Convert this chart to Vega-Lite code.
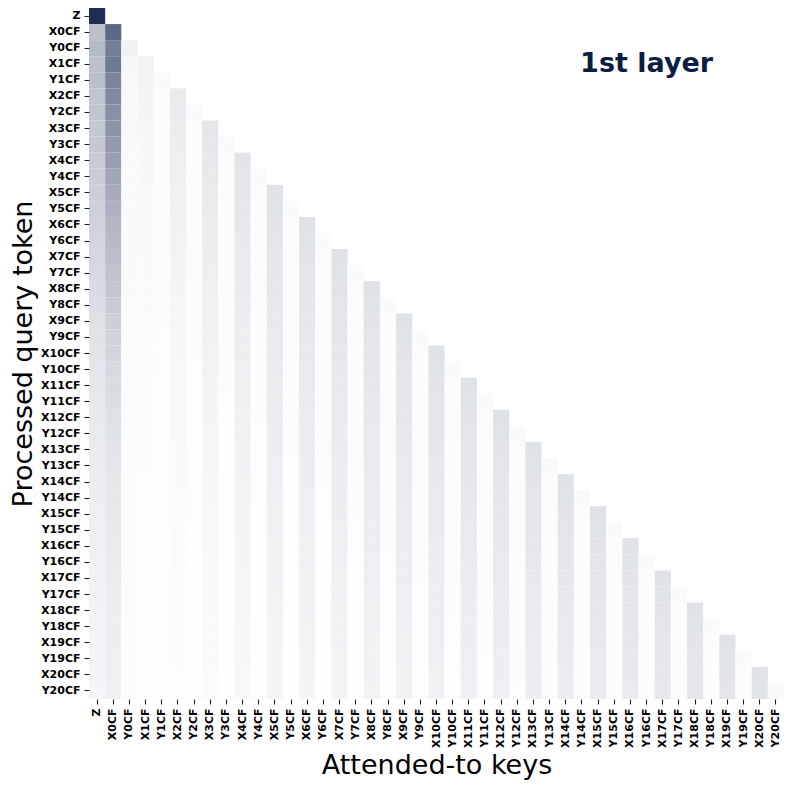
{
"$schema": "https://vega.github.io/schema/vega-lite/v6.json",
"width": 695, "height": 691,
"autosize": "none",
"padding": {"left": 89, "top": 8, "right": 9, "bottom": 90},
"background": "white",
"config": {"view": {"stroke": null}, "font": "DejaVu Sans"},
"layer": [
{
"data": {"values": [
{"q":"Z","k":"Z","v":1.0},
{"q":"X0CF","k":"Z","v":0.30},{"q":"X0CF","k":"X0CF","v":0.72},
{"q":"Y0CF","k":"Z","v":0.33},{"q":"Y0CF","k":"X0CF","v":0.62},{"q":"Y0CF","k":"Y0CF","v":0.06},
{"q":"X1CF","k":"Z","v":0.30},{"q":"X1CF","k":"X0CF","v":0.64},{"q":"X1CF","k":"Y0CF","v":0.04},{"q":"X1CF","k":"X1CF","v":0.055},
{"q":"Y1CF","k":"Z","v":0.31},{"q":"Y1CF","k":"X0CF","v":0.58},{"q":"Y1CF","k":"Y0CF","v":0.032},{"q":"Y1CF","k":"X1CF","v":0.052},{"q":"Y1CF","k":"Y1CF","v":0.025},
{"q":"X2CF","k":"Z","v":0.28},{"q":"X2CF","k":"X0CF","v":0.56},{"q":"X2CF","k":"Y0CF","v":0.032},{"q":"X2CF","k":"X1CF","v":0.049},{"q":"X2CF","k":"Y1CF","v":0.015},{"q":"X2CF","k":"X2CF","v":0.100},
{"q":"Y2CF","k":"Z","v":0.28},{"q":"Y2CF","k":"X0CF","v":0.53},{"q":"Y2CF","k":"Y0CF","v":0.032},{"q":"Y2CF","k":"X1CF","v":0.046},{"q":"Y2CF","k":"Y1CF","v":0.015},{"q":"Y2CF","k":"X2CF","v":0.094},{"q":"Y2CF","k":"Y2CF","v":0.025},
{"q":"X3CF","k":"Z","v":0.26},{"q":"X3CF","k":"X0CF","v":0.51},{"q":"X3CF","k":"Y0CF","v":0.032},{"q":"X3CF","k":"X1CF","v":0.043},{"q":"X3CF","k":"Y1CF","v":0.015},{"q":"X3CF","k":"X2CF","v":0.088},{"q":"X3CF","k":"Y2CF","v":0.015},{"q":"X3CF","k":"X3CF","v":0.120},
{"q":"Y3CF","k":"Z","v":0.26},{"q":"Y3CF","k":"X0CF","v":0.48},{"q":"Y3CF","k":"Y0CF","v":0.026},{"q":"Y3CF","k":"X1CF","v":0.040},{"q":"Y3CF","k":"Y1CF","v":0.015},{"q":"Y3CF","k":"X2CF","v":0.083},{"q":"Y3CF","k":"Y2CF","v":0.015},{"q":"Y3CF","k":"X3CF","v":0.114},{"q":"Y3CF","k":"Y3CF","v":0.025},
{"q":"X4CF","k":"Z","v":0.25},{"q":"X4CF","k":"X0CF","v":0.46},{"q":"X4CF","k":"Y0CF","v":0.026},{"q":"X4CF","k":"X1CF","v":0.038},{"q":"X4CF","k":"Y1CF","v":0.015},{"q":"X4CF","k":"X2CF","v":0.078},{"q":"X4CF","k":"Y2CF","v":0.015},{"q":"X4CF","k":"X3CF","v":0.108},{"q":"X4CF","k":"Y3CF","v":0.015},{"q":"X4CF","k":"X4CF","v":0.130},
{"q":"Y4CF","k":"Z","v":0.24},{"q":"Y4CF","k":"X0CF","v":0.42},{"q":"Y4CF","k":"Y0CF","v":0.026},{"q":"Y4CF","k":"X1CF","v":0.036},{"q":"Y4CF","k":"Y1CF","v":0.012},{"q":"Y4CF","k":"X2CF","v":0.073},{"q":"Y4CF","k":"Y2CF","v":0.015},{"q":"Y4CF","k":"X3CF","v":0.103},{"q":"Y4CF","k":"Y3CF","v":0.015},{"q":"Y4CF","k":"X4CF","v":0.125},{"q":"Y4CF","k":"Y4CF","v":0.025},
{"q":"X5CF","k":"Z","v":0.23},{"q":"X5CF","k":"X0CF","v":0.40},{"q":"X5CF","k":"Y0CF","v":0.026},{"q":"X5CF","k":"X1CF","v":0.034},{"q":"X5CF","k":"Y1CF","v":0.012},{"q":"X5CF","k":"X2CF","v":0.069},{"q":"X5CF","k":"Y2CF","v":0.015},{"q":"X5CF","k":"X3CF","v":0.098},{"q":"X5CF","k":"Y3CF","v":0.015},{"q":"X5CF","k":"X4CF","v":0.120},{"q":"X5CF","k":"Y4CF","v":0.015},{"q":"X5CF","k":"X5CF","v":0.140},
{"q":"Y5CF","k":"Z","v":0.22},{"q":"Y5CF","k":"X0CF","v":0.37},{"q":"Y5CF","k":"Y0CF","v":0.026},{"q":"Y5CF","k":"X1CF","v":0.032},{"q":"Y5CF","k":"Y1CF","v":0.012},{"q":"Y5CF","k":"X2CF","v":0.065},{"q":"Y5CF","k":"Y2CF","v":0.012},{"q":"Y5CF","k":"X3CF","v":0.093},{"q":"Y5CF","k":"Y3CF","v":0.015},{"q":"Y5CF","k":"X4CF","v":0.115},{"q":"Y5CF","k":"Y4CF","v":0.015},{"q":"Y5CF","k":"X5CF","v":0.135},{"q":"Y5CF","k":"Y5CF","v":0.025},
{"q":"X6CF","k":"Z","v":0.21},{"q":"X6CF","k":"X0CF","v":0.35},{"q":"X6CF","k":"Y0CF","v":0.026},{"q":"X6CF","k":"X1CF","v":0.030},{"q":"X6CF","k":"Y1CF","v":0.012},{"q":"X6CF","k":"X2CF","v":0.061},{"q":"X6CF","k":"Y2CF","v":0.012},{"q":"X6CF","k":"X3CF","v":0.088},{"q":"X6CF","k":"Y3CF","v":0.015},{"q":"X6CF","k":"X4CF","v":0.110},{"q":"X6CF","k":"Y4CF","v":0.015},{"q":"X6CF","k":"X5CF","v":0.130},{"q":"X6CF","k":"Y5CF","v":0.015},{"q":"X6CF","k":"X6CF","v":0.140},
{"q":"Y6CF","k":"Z","v":0.20},{"q":"Y6CF","k":"X0CF","v":0.33},{"q":"Y6CF","k":"Y0CF","v":0.026},{"q":"Y6CF","k":"X1CF","v":0.028},{"q":"Y6CF","k":"Y1CF","v":0.012},{"q":"Y6CF","k":"X2CF","v":0.057},{"q":"Y6CF","k":"Y2CF","v":0.012},{"q":"Y6CF","k":"X3CF","v":0.084},{"q":"Y6CF","k":"Y3CF","v":0.012},{"q":"Y6CF","k":"X4CF","v":0.106},{"q":"Y6CF","k":"Y4CF","v":0.015},{"q":"Y6CF","k":"X5CF","v":0.126},{"q":"Y6CF","k":"Y5CF","v":0.015},{"q":"Y6CF","k":"X6CF","v":0.135},{"q":"Y6CF","k":"Y6CF","v":0.025},
{"q":"X7CF","k":"Z","v":0.19},{"q":"X7CF","k":"X0CF","v":0.31},{"q":"X7CF","k":"Y0CF","v":0.026},{"q":"X7CF","k":"X1CF","v":0.026},{"q":"X7CF","k":"Y1CF","v":0.012},{"q":"X7CF","k":"X2CF","v":0.054},{"q":"X7CF","k":"Y2CF","v":0.012},{"q":"X7CF","k":"X3CF","v":0.080},{"q":"X7CF","k":"Y3CF","v":0.012},{"q":"X7CF","k":"X4CF","v":0.102},{"q":"X7CF","k":"Y4CF","v":0.015},{"q":"X7CF","k":"X5CF","v":0.121},{"q":"X7CF","k":"Y5CF","v":0.015},{"q":"X7CF","k":"X6CF","v":0.130},{"q":"X7CF","k":"Y6CF","v":0.015},{"q":"X7CF","k":"X7CF","v":0.140},
{"q":"Y7CF","k":"Z","v":0.18},{"q":"Y7CF","k":"X0CF","v":0.29},{"q":"Y7CF","k":"Y0CF","v":0.026},{"q":"Y7CF","k":"X1CF","v":0.025},{"q":"Y7CF","k":"Y1CF","v":0.012},{"q":"Y7CF","k":"X2CF","v":0.051},{"q":"Y7CF","k":"Y2CF","v":0.012},{"q":"Y7CF","k":"X3CF","v":0.076},{"q":"Y7CF","k":"Y3CF","v":0.012},{"q":"Y7CF","k":"X4CF","v":0.098},{"q":"Y7CF","k":"Y4CF","v":0.012},{"q":"Y7CF","k":"X5CF","v":0.117},{"q":"Y7CF","k":"Y5CF","v":0.015},{"q":"Y7CF","k":"X6CF","v":0.126},{"q":"Y7CF","k":"Y6CF","v":0.015},{"q":"Y7CF","k":"X7CF","v":0.135},{"q":"Y7CF","k":"Y7CF","v":0.025},
{"q":"X8CF","k":"Z","v":0.17},{"q":"X8CF","k":"X0CF","v":0.27},{"q":"X8CF","k":"Y0CF","v":0.026},{"q":"X8CF","k":"X1CF","v":0.023},{"q":"X8CF","k":"Y1CF","v":0.012},{"q":"X8CF","k":"X2CF","v":0.048},{"q":"X8CF","k":"Y2CF","v":0.012},{"q":"X8CF","k":"X3CF","v":0.072},{"q":"X8CF","k":"Y3CF","v":0.012},{"q":"X8CF","k":"X4CF","v":0.094},{"q":"X8CF","k":"Y4CF","v":0.012},{"q":"X8CF","k":"X5CF","v":0.113},{"q":"X8CF","k":"Y5CF","v":0.015},{"q":"X8CF","k":"X6CF","v":0.121},{"q":"X8CF","k":"Y6CF","v":0.015},{"q":"X8CF","k":"X7CF","v":0.130},{"q":"X8CF","k":"Y7CF","v":0.015},{"q":"X8CF","k":"X8CF","v":0.140},
{"q":"Y8CF","k":"Z","v":0.16},{"q":"Y8CF","k":"X0CF","v":0.25},{"q":"Y8CF","k":"Y0CF","v":0.02},{"q":"Y8CF","k":"X1CF","v":0.022},{"q":"Y8CF","k":"Y1CF","v":0.012},{"q":"Y8CF","k":"X2CF","v":0.045},{"q":"Y8CF","k":"Y2CF","v":0.012},{"q":"Y8CF","k":"X3CF","v":0.068},{"q":"Y8CF","k":"Y3CF","v":0.012},{"q":"Y8CF","k":"X4CF","v":0.090},{"q":"Y8CF","k":"Y4CF","v":0.012},{"q":"Y8CF","k":"X5CF","v":0.109},{"q":"Y8CF","k":"Y5CF","v":0.012},{"q":"Y8CF","k":"X6CF","v":0.117},{"q":"Y8CF","k":"Y6CF","v":0.015},{"q":"Y8CF","k":"X7CF","v":0.126},{"q":"Y8CF","k":"Y7CF","v":0.015},{"q":"Y8CF","k":"X8CF","v":0.135},{"q":"Y8CF","k":"Y8CF","v":0.025},
{"q":"X9CF","k":"Z","v":0.15},{"q":"X9CF","k":"X0CF","v":0.23},{"q":"X9CF","k":"Y0CF","v":0.02},{"q":"X9CF","k":"X1CF","v":0.021},{"q":"X9CF","k":"Y1CF","v":0.012},{"q":"X9CF","k":"X2CF","v":0.042},{"q":"X9CF","k":"Y2CF","v":0.012},{"q":"X9CF","k":"X3CF","v":0.065},{"q":"X9CF","k":"Y3CF","v":0.012},{"q":"X9CF","k":"X4CF","v":0.086},{"q":"X9CF","k":"Y4CF","v":0.012},{"q":"X9CF","k":"X5CF","v":0.105},{"q":"X9CF","k":"Y5CF","v":0.012},{"q":"X9CF","k":"X6CF","v":0.113},{"q":"X9CF","k":"Y6CF","v":0.015},{"q":"X9CF","k":"X7CF","v":0.121},{"q":"X9CF","k":"Y7CF","v":0.015},{"q":"X9CF","k":"X8CF","v":0.130},{"q":"X9CF","k":"Y8CF","v":0.015},{"q":"X9CF","k":"X9CF","v":0.140},
{"q":"Y9CF","k":"Z","v":0.14},{"q":"Y9CF","k":"X0CF","v":0.21},{"q":"Y9CF","k":"Y0CF","v":0.02},{"q":"Y9CF","k":"X1CF","v":0.019},{"q":"Y9CF","k":"Y1CF","v":0.009},{"q":"Y9CF","k":"X2CF","v":0.040},{"q":"Y9CF","k":"Y2CF","v":0.012},{"q":"Y9CF","k":"X3CF","v":0.062},{"q":"Y9CF","k":"Y3CF","v":0.012},{"q":"Y9CF","k":"X4CF","v":0.083},{"q":"Y9CF","k":"Y4CF","v":0.012},{"q":"Y9CF","k":"X5CF","v":0.102},{"q":"Y9CF","k":"Y5CF","v":0.012},{"q":"Y9CF","k":"X6CF","v":0.109},{"q":"Y9CF","k":"Y6CF","v":0.012},{"q":"Y9CF","k":"X7CF","v":0.117},{"q":"Y9CF","k":"Y7CF","v":0.015},{"q":"Y9CF","k":"X8CF","v":0.126},{"q":"Y9CF","k":"Y8CF","v":0.015},{"q":"Y9CF","k":"X9CF","v":0.135},{"q":"Y9CF","k":"Y9CF","v":0.025},
{"q":"X10CF","k":"Z","v":0.13},{"q":"X10CF","k":"X0CF","v":0.20},{"q":"X10CF","k":"Y0CF","v":0.02},{"q":"X10CF","k":"X1CF","v":0.018},{"q":"X10CF","k":"Y1CF","v":0.009},{"q":"X10CF","k":"X2CF","v":0.037},{"q":"X10CF","k":"Y2CF","v":0.012},{"q":"X10CF","k":"X3CF","v":0.059},{"q":"X10CF","k":"Y3CF","v":0.012},{"q":"X10CF","k":"X4CF","v":0.080},{"q":"X10CF","k":"Y4CF","v":0.012},{"q":"X10CF","k":"X5CF","v":0.098},{"q":"X10CF","k":"Y5CF","v":0.012},{"q":"X10CF","k":"X6CF","v":0.105},{"q":"X10CF","k":"Y6CF","v":0.012},{"q":"X10CF","k":"X7CF","v":0.113},{"q":"X10CF","k":"Y7CF","v":0.015},{"q":"X10CF","k":"X8CF","v":0.121},{"q":"X10CF","k":"Y8CF","v":0.015},{"q":"X10CF","k":"X9CF","v":0.130},{"q":"X10CF","k":"Y9CF","v":0.015},{"q":"X10CF","k":"X10CF","v":0.140},
{"q":"Y10CF","k":"Z","v":0.125},{"q":"Y10CF","k":"X0CF","v":0.18},{"q":"Y10CF","k":"Y0CF","v":0.02},{"q":"Y10CF","k":"X1CF","v":0.017},{"q":"Y10CF","k":"Y1CF","v":0.009},{"q":"Y10CF","k":"X2CF","v":0.035},{"q":"Y10CF","k":"Y2CF","v":0.009},{"q":"Y10CF","k":"X3CF","v":0.056},{"q":"Y10CF","k":"Y3CF","v":0.012},{"q":"Y10CF","k":"X4CF","v":0.076},{"q":"Y10CF","k":"Y4CF","v":0.012},{"q":"Y10CF","k":"X5CF","v":0.095},{"q":"Y10CF","k":"Y5CF","v":0.012},{"q":"Y10CF","k":"X6CF","v":0.102},{"q":"Y10CF","k":"Y6CF","v":0.012},{"q":"Y10CF","k":"X7CF","v":0.109},{"q":"Y10CF","k":"Y7CF","v":0.012},{"q":"Y10CF","k":"X8CF","v":0.117},{"q":"Y10CF","k":"Y8CF","v":0.015},{"q":"Y10CF","k":"X9CF","v":0.126},{"q":"Y10CF","k":"Y9CF","v":0.015},{"q":"Y10CF","k":"X10CF","v":0.135},{"q":"Y10CF","k":"Y10CF","v":0.025},
{"q":"X11CF","k":"Z","v":0.12},{"q":"X11CF","k":"X0CF","v":0.17},{"q":"X11CF","k":"Y0CF","v":0.02},{"q":"X11CF","k":"X1CF","v":0.016},{"q":"X11CF","k":"Y1CF","v":0.009},{"q":"X11CF","k":"X2CF","v":0.033},{"q":"X11CF","k":"Y2CF","v":0.009},{"q":"X11CF","k":"X3CF","v":0.053},{"q":"X11CF","k":"Y3CF","v":0.012},{"q":"X11CF","k":"X4CF","v":0.073},{"q":"X11CF","k":"Y4CF","v":0.012},{"q":"X11CF","k":"X5CF","v":0.091},{"q":"X11CF","k":"Y5CF","v":0.012},{"q":"X11CF","k":"X6CF","v":0.098},{"q":"X11CF","k":"Y6CF","v":0.012},{"q":"X11CF","k":"X7CF","v":0.105},{"q":"X11CF","k":"Y7CF","v":0.012},{"q":"X11CF","k":"X8CF","v":0.113},{"q":"X11CF","k":"Y8CF","v":0.015},{"q":"X11CF","k":"X9CF","v":0.121},{"q":"X11CF","k":"Y9CF","v":0.015},{"q":"X11CF","k":"X10CF","v":0.130},{"q":"X11CF","k":"Y10CF","v":0.015},{"q":"X11CF","k":"X11CF","v":0.140},
{"q":"Y11CF","k":"Z","v":0.11},{"q":"Y11CF","k":"X0CF","v":0.16},{"q":"Y11CF","k":"Y0CF","v":0.02},{"q":"Y11CF","k":"X1CF","v":0.015},{"q":"Y11CF","k":"Y1CF","v":0.009},{"q":"Y11CF","k":"X2CF","v":0.031},{"q":"Y11CF","k":"Y2CF","v":0.009},{"q":"Y11CF","k":"X3CF","v":0.050},{"q":"Y11CF","k":"Y3CF","v":0.009},{"q":"Y11CF","k":"X4CF","v":0.070},{"q":"Y11CF","k":"Y4CF","v":0.012},{"q":"Y11CF","k":"X5CF","v":0.088},{"q":"Y11CF","k":"Y5CF","v":0.012},{"q":"Y11CF","k":"X6CF","v":0.095},{"q":"Y11CF","k":"Y6CF","v":0.012},{"q":"Y11CF","k":"X7CF","v":0.102},{"q":"Y11CF","k":"Y7CF","v":0.012},{"q":"Y11CF","k":"X8CF","v":0.109},{"q":"Y11CF","k":"Y8CF","v":0.012},{"q":"Y11CF","k":"X9CF","v":0.117},{"q":"Y11CF","k":"Y9CF","v":0.015},{"q":"Y11CF","k":"X10CF","v":0.126},{"q":"Y11CF","k":"Y10CF","v":0.015},{"q":"Y11CF","k":"X11CF","v":0.135},{"q":"Y11CF","k":"Y11CF","v":0.025},
{"q":"X12CF","k":"Z","v":0.105},{"q":"X12CF","k":"X0CF","v":0.15},{"q":"X12CF","k":"Y0CF","v":0.02},{"q":"X12CF","k":"X1CF","v":0.014},{"q":"X12CF","k":"Y1CF","v":0.009},{"q":"X12CF","k":"X2CF","v":0.029},{"q":"X12CF","k":"Y2CF","v":0.009},{"q":"X12CF","k":"X3CF","v":0.048},{"q":"X12CF","k":"Y3CF","v":0.009},{"q":"X12CF","k":"X4CF","v":0.068},{"q":"X12CF","k":"Y4CF","v":0.012},{"q":"X12CF","k":"X5CF","v":0.085},{"q":"X12CF","k":"Y5CF","v":0.012},{"q":"X12CF","k":"X6CF","v":0.091},{"q":"X12CF","k":"Y6CF","v":0.012},{"q":"X12CF","k":"X7CF","v":0.098},{"q":"X12CF","k":"Y7CF","v":0.012},{"q":"X12CF","k":"X8CF","v":0.105},{"q":"X12CF","k":"Y8CF","v":0.012},{"q":"X12CF","k":"X9CF","v":0.113},{"q":"X12CF","k":"Y9CF","v":0.015},{"q":"X12CF","k":"X10CF","v":0.121},{"q":"X12CF","k":"Y10CF","v":0.015},{"q":"X12CF","k":"X11CF","v":0.130},{"q":"X12CF","k":"Y11CF","v":0.015},{"q":"X12CF","k":"X12CF","v":0.140},
{"q":"Y12CF","k":"Z","v":0.10},{"q":"Y12CF","k":"X0CF","v":0.14},{"q":"Y12CF","k":"Y0CF","v":0.02},{"q":"Y12CF","k":"X1CF","v":0.013},{"q":"Y12CF","k":"Y1CF","v":0.009},{"q":"Y12CF","k":"X2CF","v":0.027},{"q":"Y12CF","k":"Y2CF","v":0.009},{"q":"Y12CF","k":"X3CF","v":0.045},{"q":"Y12CF","k":"Y3CF","v":0.009},{"q":"Y12CF","k":"X4CF","v":0.065},{"q":"Y12CF","k":"Y4CF","v":0.009},{"q":"Y12CF","k":"X5CF","v":0.082},{"q":"Y12CF","k":"Y5CF","v":0.012},{"q":"Y12CF","k":"X6CF","v":0.088},{"q":"Y12CF","k":"Y6CF","v":0.012},{"q":"Y12CF","k":"X7CF","v":0.095},{"q":"Y12CF","k":"Y7CF","v":0.012},{"q":"Y12CF","k":"X8CF","v":0.102},{"q":"Y12CF","k":"Y8CF","v":0.012},{"q":"Y12CF","k":"X9CF","v":0.109},{"q":"Y12CF","k":"Y9CF","v":0.012},{"q":"Y12CF","k":"X10CF","v":0.117},{"q":"Y12CF","k":"Y10CF","v":0.015},{"q":"Y12CF","k":"X11CF","v":0.126},{"q":"Y12CF","k":"Y11CF","v":0.015},{"q":"Y12CF","k":"X12CF","v":0.135},{"q":"Y12CF","k":"Y12CF","v":0.025},
{"q":"X13CF","k":"Z","v":0.095},{"q":"X13CF","k":"X0CF","v":0.13},{"q":"X13CF","k":"Y0CF","v":0.02},{"q":"X13CF","k":"X1CF","v":0.013},{"q":"X13CF","k":"Y1CF","v":0.009},{"q":"X13CF","k":"X2CF","v":0.026},{"q":"X13CF","k":"Y2CF","v":0.009},{"q":"X13CF","k":"X3CF","v":0.043},{"q":"X13CF","k":"Y3CF","v":0.009},{"q":"X13CF","k":"X4CF","v":0.062},{"q":"X13CF","k":"Y4CF","v":0.009},{"q":"X13CF","k":"X5CF","v":0.079},{"q":"X13CF","k":"Y5CF","v":0.012},{"q":"X13CF","k":"X6CF","v":0.085},{"q":"X13CF","k":"Y6CF","v":0.012},{"q":"X13CF","k":"X7CF","v":0.091},{"q":"X13CF","k":"Y7CF","v":0.012},{"q":"X13CF","k":"X8CF","v":0.098},{"q":"X13CF","k":"Y8CF","v":0.012},{"q":"X13CF","k":"X9CF","v":0.105},{"q":"X13CF","k":"Y9CF","v":0.012},{"q":"X13CF","k":"X10CF","v":0.113},{"q":"X13CF","k":"Y10CF","v":0.015},{"q":"X13CF","k":"X11CF","v":0.121},{"q":"X13CF","k":"Y11CF","v":0.015},{"q":"X13CF","k":"X12CF","v":0.130},{"q":"X13CF","k":"Y12CF","v":0.015},{"q":"X13CF","k":"X13CF","v":0.140},
{"q":"Y13CF","k":"Z","v":0.09},{"q":"Y13CF","k":"X0CF","v":0.125},{"q":"Y13CF","k":"Y0CF","v":0.015},{"q":"Y13CF","k":"X1CF","v":0.012},{"q":"Y13CF","k":"Y1CF","v":0.009},{"q":"Y13CF","k":"X2CF","v":0.024},{"q":"Y13CF","k":"Y2CF","v":0.009},{"q":"Y13CF","k":"X3CF","v":0.041},{"q":"Y13CF","k":"Y3CF","v":0.009},{"q":"Y13CF","k":"X4CF","v":0.060},{"q":"Y13CF","k":"Y4CF","v":0.009},{"q":"Y13CF","k":"X5CF","v":0.076},{"q":"Y13CF","k":"Y5CF","v":0.009},{"q":"Y13CF","k":"X6CF","v":0.082},{"q":"Y13CF","k":"Y6CF","v":0.012},{"q":"Y13CF","k":"X7CF","v":0.088},{"q":"Y13CF","k":"Y7CF","v":0.012},{"q":"Y13CF","k":"X8CF","v":0.095},{"q":"Y13CF","k":"Y8CF","v":0.012},{"q":"Y13CF","k":"X9CF","v":0.102},{"q":"Y13CF","k":"Y9CF","v":0.012},{"q":"Y13CF","k":"X10CF","v":0.109},{"q":"Y13CF","k":"Y10CF","v":0.012},{"q":"Y13CF","k":"X11CF","v":0.117},{"q":"Y13CF","k":"Y11CF","v":0.015},{"q":"Y13CF","k":"X12CF","v":0.126},{"q":"Y13CF","k":"Y12CF","v":0.015},{"q":"Y13CF","k":"X13CF","v":0.135},{"q":"Y13CF","k":"Y13CF","v":0.025},
{"q":"X14CF","k":"Z","v":0.085},{"q":"X14CF","k":"X0CF","v":0.12},{"q":"X14CF","k":"Y0CF","v":0.015},{"q":"X14CF","k":"X1CF","v":0.011},{"q":"X14CF","k":"Y1CF","v":0.009},{"q":"X14CF","k":"X2CF","v":0.023},{"q":"X14CF","k":"Y2CF","v":0.009},{"q":"X14CF","k":"X3CF","v":0.039},{"q":"X14CF","k":"Y3CF","v":0.009},{"q":"X14CF","k":"X4CF","v":0.057},{"q":"X14CF","k":"Y4CF","v":0.009},{"q":"X14CF","k":"X5CF","v":0.074},{"q":"X14CF","k":"Y5CF","v":0.009},{"q":"X14CF","k":"X6CF","v":0.079},{"q":"X14CF","k":"Y6CF","v":0.012},{"q":"X14CF","k":"X7CF","v":0.085},{"q":"X14CF","k":"Y7CF","v":0.012},{"q":"X14CF","k":"X8CF","v":0.091},{"q":"X14CF","k":"Y8CF","v":0.012},{"q":"X14CF","k":"X9CF","v":0.098},{"q":"X14CF","k":"Y9CF","v":0.012},{"q":"X14CF","k":"X10CF","v":0.105},{"q":"X14CF","k":"Y10CF","v":0.012},{"q":"X14CF","k":"X11CF","v":0.113},{"q":"X14CF","k":"Y11CF","v":0.015},{"q":"X14CF","k":"X12CF","v":0.121},{"q":"X14CF","k":"Y12CF","v":0.015},{"q":"X14CF","k":"X13CF","v":0.130},{"q":"X14CF","k":"Y13CF","v":0.015},{"q":"X14CF","k":"X14CF","v":0.140},
{"q":"Y14CF","k":"Z","v":0.08},{"q":"Y14CF","k":"X0CF","v":0.115},{"q":"Y14CF","k":"Y0CF","v":0.015},{"q":"Y14CF","k":"X1CF","v":0.010},{"q":"Y14CF","k":"Y1CF","v":0.007},{"q":"Y14CF","k":"X2CF","v":0.021},{"q":"Y14CF","k":"Y2CF","v":0.009},{"q":"Y14CF","k":"X3CF","v":0.037},{"q":"Y14CF","k":"Y3CF","v":0.009},{"q":"Y14CF","k":"X4CF","v":0.055},{"q":"Y14CF","k":"Y4CF","v":0.009},{"q":"Y14CF","k":"X5CF","v":0.071},{"q":"Y14CF","k":"Y5CF","v":0.009},{"q":"Y14CF","k":"X6CF","v":0.076},{"q":"Y14CF","k":"Y6CF","v":0.009},{"q":"Y14CF","k":"X7CF","v":0.082},{"q":"Y14CF","k":"Y7CF","v":0.012},{"q":"Y14CF","k":"X8CF","v":0.088},{"q":"Y14CF","k":"Y8CF","v":0.012},{"q":"Y14CF","k":"X9CF","v":0.095},{"q":"Y14CF","k":"Y9CF","v":0.012},{"q":"Y14CF","k":"X10CF","v":0.102},{"q":"Y14CF","k":"Y10CF","v":0.012},{"q":"Y14CF","k":"X11CF","v":0.109},{"q":"Y14CF","k":"Y11CF","v":0.012},{"q":"Y14CF","k":"X12CF","v":0.117},{"q":"Y14CF","k":"Y12CF","v":0.015},{"q":"Y14CF","k":"X13CF","v":0.126},{"q":"Y14CF","k":"Y13CF","v":0.015},{"q":"Y14CF","k":"X14CF","v":0.135},{"q":"Y14CF","k":"Y14CF","v":0.025},
{"q":"X15CF","k":"Z","v":0.077},{"q":"X15CF","k":"X0CF","v":0.11},{"q":"X15CF","k":"Y0CF","v":0.015},{"q":"X15CF","k":"X1CF","v":0.010},{"q":"X15CF","k":"Y1CF","v":0.007},{"q":"X15CF","k":"X2CF","v":0.020},{"q":"X15CF","k":"Y2CF","v":0.009},{"q":"X15CF","k":"X3CF","v":0.035},{"q":"X15CF","k":"Y3CF","v":0.009},{"q":"X15CF","k":"X4CF","v":0.053},{"q":"X15CF","k":"Y4CF","v":0.009},{"q":"X15CF","k":"X5CF","v":0.069},{"q":"X15CF","k":"Y5CF","v":0.009},{"q":"X15CF","k":"X6CF","v":0.074},{"q":"X15CF","k":"Y6CF","v":0.009},{"q":"X15CF","k":"X7CF","v":0.079},{"q":"X15CF","k":"Y7CF","v":0.012},{"q":"X15CF","k":"X8CF","v":0.085},{"q":"X15CF","k":"Y8CF","v":0.012},{"q":"X15CF","k":"X9CF","v":0.091},{"q":"X15CF","k":"Y9CF","v":0.012},{"q":"X15CF","k":"X10CF","v":0.098},{"q":"X15CF","k":"Y10CF","v":0.012},{"q":"X15CF","k":"X11CF","v":0.105},{"q":"X15CF","k":"Y11CF","v":0.012},{"q":"X15CF","k":"X12CF","v":0.113},{"q":"X15CF","k":"Y12CF","v":0.015},{"q":"X15CF","k":"X13CF","v":0.121},{"q":"X15CF","k":"Y13CF","v":0.015},{"q":"X15CF","k":"X14CF","v":0.130},{"q":"X15CF","k":"Y14CF","v":0.015},{"q":"X15CF","k":"X15CF","v":0.140},
{"q":"Y15CF","k":"Z","v":0.074},{"q":"Y15CF","k":"X0CF","v":0.105},{"q":"Y15CF","k":"Y0CF","v":0.015},{"q":"Y15CF","k":"X1CF","v":0.009},{"q":"Y15CF","k":"Y1CF","v":0.007},{"q":"Y15CF","k":"X2CF","v":0.019},{"q":"Y15CF","k":"Y2CF","v":0.007},{"q":"Y15CF","k":"X3CF","v":0.034},{"q":"Y15CF","k":"Y3CF","v":0.009},{"q":"Y15CF","k":"X4CF","v":0.051},{"q":"Y15CF","k":"Y4CF","v":0.009},{"q":"Y15CF","k":"X5CF","v":0.066},{"q":"Y15CF","k":"Y5CF","v":0.009},{"q":"Y15CF","k":"X6CF","v":0.071},{"q":"Y15CF","k":"Y6CF","v":0.009},{"q":"Y15CF","k":"X7CF","v":0.076},{"q":"Y15CF","k":"Y7CF","v":0.009},{"q":"Y15CF","k":"X8CF","v":0.082},{"q":"Y15CF","k":"Y8CF","v":0.012},{"q":"Y15CF","k":"X9CF","v":0.088},{"q":"Y15CF","k":"Y9CF","v":0.012},{"q":"Y15CF","k":"X10CF","v":0.095},{"q":"Y15CF","k":"Y10CF","v":0.012},{"q":"Y15CF","k":"X11CF","v":0.102},{"q":"Y15CF","k":"Y11CF","v":0.012},{"q":"Y15CF","k":"X12CF","v":0.109},{"q":"Y15CF","k":"Y12CF","v":0.012},{"q":"Y15CF","k":"X13CF","v":0.117},{"q":"Y15CF","k":"Y13CF","v":0.015},{"q":"Y15CF","k":"X14CF","v":0.126},{"q":"Y15CF","k":"Y14CF","v":0.015},{"q":"Y15CF","k":"X15CF","v":0.135},{"q":"Y15CF","k":"Y15CF","v":0.025},
{"q":"X16CF","k":"Z","v":0.07},{"q":"X16CF","k":"X0CF","v":0.10},{"q":"X16CF","k":"Y0CF","v":0.015},{"q":"X16CF","k":"X1CF","v":0.009},{"q":"X16CF","k":"Y1CF","v":0.007},{"q":"X16CF","k":"X2CF","v":0.018},{"q":"X16CF","k":"Y2CF","v":0.007},{"q":"X16CF","k":"X3CF","v":0.032},{"q":"X16CF","k":"Y3CF","v":0.009},{"q":"X16CF","k":"X4CF","v":0.049},{"q":"X16CF","k":"Y4CF","v":0.009},{"q":"X16CF","k":"X5CF","v":0.064},{"q":"X16CF","k":"Y5CF","v":0.009},{"q":"X16CF","k":"X6CF","v":0.069},{"q":"X16CF","k":"Y6CF","v":0.009},{"q":"X16CF","k":"X7CF","v":0.074},{"q":"X16CF","k":"Y7CF","v":0.009},{"q":"X16CF","k":"X8CF","v":0.079},{"q":"X16CF","k":"Y8CF","v":0.012},{"q":"X16CF","k":"X9CF","v":0.085},{"q":"X16CF","k":"Y9CF","v":0.012},{"q":"X16CF","k":"X10CF","v":0.091},{"q":"X16CF","k":"Y10CF","v":0.012},{"q":"X16CF","k":"X11CF","v":0.098},{"q":"X16CF","k":"Y11CF","v":0.012},{"q":"X16CF","k":"X12CF","v":0.105},{"q":"X16CF","k":"Y12CF","v":0.012},{"q":"X16CF","k":"X13CF","v":0.113},{"q":"X16CF","k":"Y13CF","v":0.015},{"q":"X16CF","k":"X14CF","v":0.121},{"q":"X16CF","k":"Y14CF","v":0.015},{"q":"X16CF","k":"X15CF","v":0.130},{"q":"X16CF","k":"Y15CF","v":0.015},{"q":"X16CF","k":"X16CF","v":0.140},
{"q":"Y16CF","k":"Z","v":0.066},{"q":"Y16CF","k":"X0CF","v":0.095},{"q":"Y16CF","k":"Y0CF","v":0.015},{"q":"Y16CF","k":"X1CF","v":0.008},{"q":"Y16CF","k":"Y1CF","v":0.007},{"q":"Y16CF","k":"X2CF","v":0.017},{"q":"Y16CF","k":"Y2CF","v":0.007},{"q":"Y16CF","k":"X3CF","v":0.030},{"q":"Y16CF","k":"Y3CF","v":0.007},{"q":"Y16CF","k":"X4CF","v":0.047},{"q":"Y16CF","k":"Y4CF","v":0.009},{"q":"Y16CF","k":"X5CF","v":0.062},{"q":"Y16CF","k":"Y5CF","v":0.009},{"q":"Y16CF","k":"X6CF","v":0.066},{"q":"Y16CF","k":"Y6CF","v":0.009},{"q":"Y16CF","k":"X7CF","v":0.071},{"q":"Y16CF","k":"Y7CF","v":0.009},{"q":"Y16CF","k":"X8CF","v":0.076},{"q":"Y16CF","k":"Y8CF","v":0.009},{"q":"Y16CF","k":"X9CF","v":0.082},{"q":"Y16CF","k":"Y9CF","v":0.012},{"q":"Y16CF","k":"X10CF","v":0.088},{"q":"Y16CF","k":"Y10CF","v":0.012},{"q":"Y16CF","k":"X11CF","v":0.095},{"q":"Y16CF","k":"Y11CF","v":0.012},{"q":"Y16CF","k":"X12CF","v":0.102},{"q":"Y16CF","k":"Y12CF","v":0.012},{"q":"Y16CF","k":"X13CF","v":0.109},{"q":"Y16CF","k":"Y13CF","v":0.012},{"q":"Y16CF","k":"X14CF","v":0.117},{"q":"Y16CF","k":"Y14CF","v":0.015},{"q":"Y16CF","k":"X15CF","v":0.126},{"q":"Y16CF","k":"Y15CF","v":0.015},{"q":"Y16CF","k":"X16CF","v":0.135},{"q":"Y16CF","k":"Y16CF","v":0.025},
{"q":"X17CF","k":"Z","v":0.063},{"q":"X17CF","k":"X0CF","v":0.09},{"q":"X17CF","k":"Y0CF","v":0.015},{"q":"X17CF","k":"X1CF","v":0.008},{"q":"X17CF","k":"Y1CF","v":0.007},{"q":"X17CF","k":"X2CF","v":0.016},{"q":"X17CF","k":"Y2CF","v":0.007},{"q":"X17CF","k":"X3CF","v":0.029},{"q":"X17CF","k":"Y3CF","v":0.007},{"q":"X17CF","k":"X4CF","v":0.045},{"q":"X17CF","k":"Y4CF","v":0.009},{"q":"X17CF","k":"X5CF","v":0.060},{"q":"X17CF","k":"Y5CF","v":0.009},{"q":"X17CF","k":"X6CF","v":0.064},{"q":"X17CF","k":"Y6CF","v":0.009},{"q":"X17CF","k":"X7CF","v":0.069},{"q":"X17CF","k":"Y7CF","v":0.009},{"q":"X17CF","k":"X8CF","v":0.074},{"q":"X17CF","k":"Y8CF","v":0.009},{"q":"X17CF","k":"X9CF","v":0.079},{"q":"X17CF","k":"Y9CF","v":0.012},{"q":"X17CF","k":"X10CF","v":0.085},{"q":"X17CF","k":"Y10CF","v":0.012},{"q":"X17CF","k":"X11CF","v":0.091},{"q":"X17CF","k":"Y11CF","v":0.012},{"q":"X17CF","k":"X12CF","v":0.098},{"q":"X17CF","k":"Y12CF","v":0.012},{"q":"X17CF","k":"X13CF","v":0.105},{"q":"X17CF","k":"Y13CF","v":0.012},{"q":"X17CF","k":"X14CF","v":0.113},{"q":"X17CF","k":"Y14CF","v":0.015},{"q":"X17CF","k":"X15CF","v":0.121},{"q":"X17CF","k":"Y15CF","v":0.015},{"q":"X17CF","k":"X16CF","v":0.130},{"q":"X17CF","k":"Y16CF","v":0.015},{"q":"X17CF","k":"X17CF","v":0.140},
{"q":"Y17CF","k":"Z","v":0.06},{"q":"Y17CF","k":"X0CF","v":0.088},{"q":"Y17CF","k":"Y0CF","v":0.015},{"q":"Y17CF","k":"X1CF","v":0.007},{"q":"Y17CF","k":"Y1CF","v":0.007},{"q":"Y17CF","k":"X2CF","v":0.015},{"q":"Y17CF","k":"Y2CF","v":0.007},{"q":"Y17CF","k":"X3CF","v":0.027},{"q":"Y17CF","k":"Y3CF","v":0.007},{"q":"Y17CF","k":"X4CF","v":0.043},{"q":"Y17CF","k":"Y4CF","v":0.007},{"q":"Y17CF","k":"X5CF","v":0.057},{"q":"Y17CF","k":"Y5CF","v":0.009},{"q":"Y17CF","k":"X6CF","v":0.062},{"q":"Y17CF","k":"Y6CF","v":0.009},{"q":"Y17CF","k":"X7CF","v":0.066},{"q":"Y17CF","k":"Y7CF","v":0.009},{"q":"Y17CF","k":"X8CF","v":0.071},{"q":"Y17CF","k":"Y8CF","v":0.009},{"q":"Y17CF","k":"X9CF","v":0.076},{"q":"Y17CF","k":"Y9CF","v":0.009},{"q":"Y17CF","k":"X10CF","v":0.082},{"q":"Y17CF","k":"Y10CF","v":0.012},{"q":"Y17CF","k":"X11CF","v":0.088},{"q":"Y17CF","k":"Y11CF","v":0.012},{"q":"Y17CF","k":"X12CF","v":0.095},{"q":"Y17CF","k":"Y12CF","v":0.012},{"q":"Y17CF","k":"X13CF","v":0.102},{"q":"Y17CF","k":"Y13CF","v":0.012},{"q":"Y17CF","k":"X14CF","v":0.109},{"q":"Y17CF","k":"Y14CF","v":0.012},{"q":"Y17CF","k":"X15CF","v":0.117},{"q":"Y17CF","k":"Y15CF","v":0.015},{"q":"Y17CF","k":"X16CF","v":0.126},{"q":"Y17CF","k":"Y16CF","v":0.015},{"q":"Y17CF","k":"X17CF","v":0.135},{"q":"Y17CF","k":"Y17CF","v":0.025},
{"q":"X18CF","k":"Z","v":0.057},{"q":"X18CF","k":"X0CF","v":0.085},{"q":"X18CF","k":"Y0CF","v":0.015},{"q":"X18CF","k":"X1CF","v":0.007},{"q":"X18CF","k":"Y1CF","v":0.007},{"q":"X18CF","k":"X2CF","v":0.014},{"q":"X18CF","k":"Y2CF","v":0.007},{"q":"X18CF","k":"X3CF","v":0.026},{"q":"X18CF","k":"Y3CF","v":0.007},{"q":"X18CF","k":"X4CF","v":0.041},{"q":"X18CF","k":"Y4CF","v":0.007},{"q":"X18CF","k":"X5CF","v":0.055},{"q":"X18CF","k":"Y5CF","v":0.009},{"q":"X18CF","k":"X6CF","v":0.060},{"q":"X18CF","k":"Y6CF","v":0.009},{"q":"X18CF","k":"X7CF","v":0.064},{"q":"X18CF","k":"Y7CF","v":0.009},{"q":"X18CF","k":"X8CF","v":0.069},{"q":"X18CF","k":"Y8CF","v":0.009},{"q":"X18CF","k":"X9CF","v":0.074},{"q":"X18CF","k":"Y9CF","v":0.009},{"q":"X18CF","k":"X10CF","v":0.079},{"q":"X18CF","k":"Y10CF","v":0.012},{"q":"X18CF","k":"X11CF","v":0.085},{"q":"X18CF","k":"Y11CF","v":0.012},{"q":"X18CF","k":"X12CF","v":0.091},{"q":"X18CF","k":"Y12CF","v":0.012},{"q":"X18CF","k":"X13CF","v":0.098},{"q":"X18CF","k":"Y13CF","v":0.012},{"q":"X18CF","k":"X14CF","v":0.105},{"q":"X18CF","k":"Y14CF","v":0.012},{"q":"X18CF","k":"X15CF","v":0.113},{"q":"X18CF","k":"Y15CF","v":0.015},{"q":"X18CF","k":"X16CF","v":0.121},{"q":"X18CF","k":"Y16CF","v":0.015},{"q":"X18CF","k":"X17CF","v":0.130},{"q":"X18CF","k":"Y17CF","v":0.015},{"q":"X18CF","k":"X18CF","v":0.140},
{"q":"Y18CF","k":"Z","v":0.054},{"q":"Y18CF","k":"X0CF","v":0.082},{"q":"Y18CF","k":"Y0CF","v":0.015},{"q":"Y18CF","k":"X1CF","v":0.006},{"q":"Y18CF","k":"Y1CF","v":0.007},{"q":"Y18CF","k":"X2CF","v":0.013},{"q":"Y18CF","k":"Y2CF","v":0.007},{"q":"Y18CF","k":"X3CF","v":0.025},{"q":"Y18CF","k":"Y3CF","v":0.007},{"q":"Y18CF","k":"X4CF","v":0.040},{"q":"Y18CF","k":"Y4CF","v":0.007},{"q":"Y18CF","k":"X5CF","v":0.053},{"q":"Y18CF","k":"Y5CF","v":0.007},{"q":"Y18CF","k":"X6CF","v":0.057},{"q":"Y18CF","k":"Y6CF","v":0.009},{"q":"Y18CF","k":"X7CF","v":0.062},{"q":"Y18CF","k":"Y7CF","v":0.009},{"q":"Y18CF","k":"X8CF","v":0.066},{"q":"Y18CF","k":"Y8CF","v":0.009},{"q":"Y18CF","k":"X9CF","v":0.071},{"q":"Y18CF","k":"Y9CF","v":0.009},{"q":"Y18CF","k":"X10CF","v":0.076},{"q":"Y18CF","k":"Y10CF","v":0.009},{"q":"Y18CF","k":"X11CF","v":0.082},{"q":"Y18CF","k":"Y11CF","v":0.012},{"q":"Y18CF","k":"X12CF","v":0.088},{"q":"Y18CF","k":"Y12CF","v":0.012},{"q":"Y18CF","k":"X13CF","v":0.095},{"q":"Y18CF","k":"Y13CF","v":0.012},{"q":"Y18CF","k":"X14CF","v":0.102},{"q":"Y18CF","k":"Y14CF","v":0.012},{"q":"Y18CF","k":"X15CF","v":0.109},{"q":"Y18CF","k":"Y15CF","v":0.012},{"q":"Y18CF","k":"X16CF","v":0.117},{"q":"Y18CF","k":"Y16CF","v":0.015},{"q":"Y18CF","k":"X17CF","v":0.126},{"q":"Y18CF","k":"Y17CF","v":0.015},{"q":"Y18CF","k":"X18CF","v":0.135},{"q":"Y18CF","k":"Y18CF","v":0.025},
{"q":"X19CF","k":"Z","v":0.05},{"q":"X19CF","k":"X0CF","v":0.08},{"q":"X19CF","k":"Y0CF","v":0.015},{"q":"X19CF","k":"X1CF","v":0.006},{"q":"X19CF","k":"Y1CF","v":0.007},{"q":"X19CF","k":"X2CF","v":0.012},{"q":"X19CF","k":"Y2CF","v":0.007},{"q":"X19CF","k":"X3CF","v":0.024},{"q":"X19CF","k":"Y3CF","v":0.007},{"q":"X19CF","k":"X4CF","v":0.038},{"q":"X19CF","k":"Y4CF","v":0.007},{"q":"X19CF","k":"X5CF","v":0.052},{"q":"X19CF","k":"Y5CF","v":0.007},{"q":"X19CF","k":"X6CF","v":0.055},{"q":"X19CF","k":"Y6CF","v":0.009},{"q":"X19CF","k":"X7CF","v":0.060},{"q":"X19CF","k":"Y7CF","v":0.009},{"q":"X19CF","k":"X8CF","v":0.064},{"q":"X19CF","k":"Y8CF","v":0.009},{"q":"X19CF","k":"X9CF","v":0.069},{"q":"X19CF","k":"Y9CF","v":0.009},{"q":"X19CF","k":"X10CF","v":0.074},{"q":"X19CF","k":"Y10CF","v":0.009},{"q":"X19CF","k":"X11CF","v":0.079},{"q":"X19CF","k":"Y11CF","v":0.012},{"q":"X19CF","k":"X12CF","v":0.085},{"q":"X19CF","k":"Y12CF","v":0.012},{"q":"X19CF","k":"X13CF","v":0.091},{"q":"X19CF","k":"Y13CF","v":0.012},{"q":"X19CF","k":"X14CF","v":0.098},{"q":"X19CF","k":"Y14CF","v":0.012},{"q":"X19CF","k":"X15CF","v":0.105},{"q":"X19CF","k":"Y15CF","v":0.012},{"q":"X19CF","k":"X16CF","v":0.113},{"q":"X19CF","k":"Y16CF","v":0.015},{"q":"X19CF","k":"X17CF","v":0.121},{"q":"X19CF","k":"Y17CF","v":0.015},{"q":"X19CF","k":"X18CF","v":0.130},{"q":"X19CF","k":"Y18CF","v":0.015},{"q":"X19CF","k":"X19CF","v":0.140},
{"q":"Y19CF","k":"Z","v":0.048},{"q":"Y19CF","k":"X0CF","v":0.077},{"q":"Y19CF","k":"Y0CF","v":0.015},{"q":"Y19CF","k":"X1CF","v":0.006},{"q":"Y19CF","k":"Y1CF","v":0.007},{"q":"Y19CF","k":"X2CF","v":0.012},{"q":"Y19CF","k":"Y2CF","v":0.007},{"q":"Y19CF","k":"X3CF","v":0.022},{"q":"Y19CF","k":"Y3CF","v":0.007},{"q":"Y19CF","k":"X4CF","v":0.037},{"q":"Y19CF","k":"Y4CF","v":0.007},{"q":"Y19CF","k":"X5CF","v":0.050},{"q":"Y19CF","k":"Y5CF","v":0.007},{"q":"Y19CF","k":"X6CF","v":0.053},{"q":"Y19CF","k":"Y6CF","v":0.007},{"q":"Y19CF","k":"X7CF","v":0.057},{"q":"Y19CF","k":"Y7CF","v":0.009},{"q":"Y19CF","k":"X8CF","v":0.062},{"q":"Y19CF","k":"Y8CF","v":0.009},{"q":"Y19CF","k":"X9CF","v":0.066},{"q":"Y19CF","k":"Y9CF","v":0.009},{"q":"Y19CF","k":"X10CF","v":0.071},{"q":"Y19CF","k":"Y10CF","v":0.009},{"q":"Y19CF","k":"X11CF","v":0.076},{"q":"Y19CF","k":"Y11CF","v":0.009},{"q":"Y19CF","k":"X12CF","v":0.082},{"q":"Y19CF","k":"Y12CF","v":0.012},{"q":"Y19CF","k":"X13CF","v":0.088},{"q":"Y19CF","k":"Y13CF","v":0.012},{"q":"Y19CF","k":"X14CF","v":0.095},{"q":"Y19CF","k":"Y14CF","v":0.012},{"q":"Y19CF","k":"X15CF","v":0.102},{"q":"Y19CF","k":"Y15CF","v":0.012},{"q":"Y19CF","k":"X16CF","v":0.109},{"q":"Y19CF","k":"Y16CF","v":0.012},{"q":"Y19CF","k":"X17CF","v":0.117},{"q":"Y19CF","k":"Y17CF","v":0.015},{"q":"Y19CF","k":"X18CF","v":0.126},{"q":"Y19CF","k":"Y18CF","v":0.015},{"q":"Y19CF","k":"X19CF","v":0.135},{"q":"Y19CF","k":"Y19CF","v":0.025},
{"q":"X20CF","k":"Z","v":0.046},{"q":"X20CF","k":"X0CF","v":0.075},{"q":"X20CF","k":"Y0CF","v":0.015},{"q":"X20CF","k":"X1CF","v":0.005},{"q":"X20CF","k":"Y1CF","v":0.007},{"q":"X20CF","k":"X2CF","v":0.011},{"q":"X20CF","k":"Y2CF","v":0.007},{"q":"X20CF","k":"X3CF","v":0.021},{"q":"X20CF","k":"Y3CF","v":0.007},{"q":"X20CF","k":"X4CF","v":0.035},{"q":"X20CF","k":"Y4CF","v":0.007},{"q":"X20CF","k":"X5CF","v":0.048},{"q":"X20CF","k":"Y5CF","v":0.007},{"q":"X20CF","k":"X6CF","v":0.052},{"q":"X20CF","k":"Y6CF","v":0.007},{"q":"X20CF","k":"X7CF","v":0.055},{"q":"X20CF","k":"Y7CF","v":0.009},{"q":"X20CF","k":"X8CF","v":0.060},{"q":"X20CF","k":"Y8CF","v":0.009},{"q":"X20CF","k":"X9CF","v":0.064},{"q":"X20CF","k":"Y9CF","v":0.009},{"q":"X20CF","k":"X10CF","v":0.069},{"q":"X20CF","k":"Y10CF","v":0.009},{"q":"X20CF","k":"X11CF","v":0.074},{"q":"X20CF","k":"Y11CF","v":0.009},{"q":"X20CF","k":"X12CF","v":0.079},{"q":"X20CF","k":"Y12CF","v":0.012},{"q":"X20CF","k":"X13CF","v":0.085},{"q":"X20CF","k":"Y13CF","v":0.012},{"q":"X20CF","k":"X14CF","v":0.091},{"q":"X20CF","k":"Y14CF","v":0.012},{"q":"X20CF","k":"X15CF","v":0.098},{"q":"X20CF","k":"Y15CF","v":0.012},{"q":"X20CF","k":"X16CF","v":0.105},{"q":"X20CF","k":"Y16CF","v":0.012},{"q":"X20CF","k":"X17CF","v":0.113},{"q":"X20CF","k":"Y17CF","v":0.015},{"q":"X20CF","k":"X18CF","v":0.121},{"q":"X20CF","k":"Y18CF","v":0.015},{"q":"X20CF","k":"X19CF","v":0.130},{"q":"X20CF","k":"Y19CF","v":0.015},{"q":"X20CF","k":"X20CF","v":0.140},
{"q":"Y20CF","k":"Z","v":0.044},{"q":"Y20CF","k":"X0CF","v":0.072},{"q":"Y20CF","k":"Y0CF","v":0.015},{"q":"Y20CF","k":"X1CF","v":0.005},{"q":"Y20CF","k":"Y1CF","v":0.007},{"q":"Y20CF","k":"X2CF","v":0.010},{"q":"Y20CF","k":"Y2CF","v":0.007},{"q":"Y20CF","k":"X3CF","v":0.020},{"q":"Y20CF","k":"Y3CF","v":0.007},{"q":"Y20CF","k":"X4CF","v":0.034},{"q":"Y20CF","k":"Y4CF","v":0.007},{"q":"Y20CF","k":"X5CF","v":0.046},{"q":"Y20CF","k":"Y5CF","v":0.007},{"q":"Y20CF","k":"X6CF","v":0.050},{"q":"Y20CF","k":"Y6CF","v":0.007},{"q":"Y20CF","k":"X7CF","v":0.053},{"q":"Y20CF","k":"Y7CF","v":0.007},{"q":"Y20CF","k":"X8CF","v":0.057},{"q":"Y20CF","k":"Y8CF","v":0.009},{"q":"Y20CF","k":"X9CF","v":0.062},{"q":"Y20CF","k":"Y9CF","v":0.009},{"q":"Y20CF","k":"X10CF","v":0.066},{"q":"Y20CF","k":"Y10CF","v":0.009},{"q":"Y20CF","k":"X11CF","v":0.071},{"q":"Y20CF","k":"Y11CF","v":0.009},{"q":"Y20CF","k":"X12CF","v":0.076},{"q":"Y20CF","k":"Y12CF","v":0.009},{"q":"Y20CF","k":"X13CF","v":0.082},{"q":"Y20CF","k":"Y13CF","v":0.012},{"q":"Y20CF","k":"X14CF","v":0.088},{"q":"Y20CF","k":"Y14CF","v":0.012},{"q":"Y20CF","k":"X15CF","v":0.095},{"q":"Y20CF","k":"Y15CF","v":0.012},{"q":"Y20CF","k":"X16CF","v":0.102},{"q":"Y20CF","k":"Y16CF","v":0.012},{"q":"Y20CF","k":"X17CF","v":0.109},{"q":"Y20CF","k":"Y17CF","v":0.012},{"q":"Y20CF","k":"X18CF","v":0.117},{"q":"Y20CF","k":"Y18CF","v":0.015},{"q":"Y20CF","k":"X19CF","v":0.126},{"q":"Y20CF","k":"Y19CF","v":0.015},{"q":"Y20CF","k":"X20CF","v":0.135},{"q":"Y20CF","k":"Y20CF","v":0.025}
]},
"mark": {"type": "rect"},
"encoding": {
"x": {"field": "k", "type": "nominal",
 "sort": ["Z","X0CF","Y0CF","X1CF","Y1CF","X2CF","Y2CF","X3CF","Y3CF","X4CF","Y4CF","X5CF","Y5CF","X6CF","Y6CF","X7CF","Y7CF","X8CF","Y8CF","X9CF","Y9CF","X10CF","Y10CF","X11CF","Y11CF","X12CF","Y12CF","X13CF","Y13CF","X14CF","Y14CF","X15CF","Y15CF","X16CF","Y16CF","X17CF","Y17CF","X18CF","Y18CF","X19CF","Y19CF","X20CF","Y20CF"],
 "scale": {"paddingInner": 0, "paddingOuter": 0},
 "axis": {"title": "Attended-to keys", "titleFont": "DejaVu Sans", "titleFontSize": 27, "titleFontWeight": "normal", "titleColor": "#000000", "titleBaseline": "alphabetic", "titleY": 74,
  "labelAngle": -90, "labelAlign": "right", "labelBaseline": "middle", "labelFont": "DejaVu Sans", "labelFontSize": 11, "labelFontWeight": "bold", "labelColor": "#000000", "labelPadding": 4,
  "domain": false, "ticks": true, "tickSize": 5, "tickColor": "#222222", "tickWidth": 1.1, "grid": false, "labelOverlap": false}},
"y": {"field": "q", "type": "nominal",
 "sort": ["Z","X0CF","Y0CF","X1CF","Y1CF","X2CF","Y2CF","X3CF","Y3CF","X4CF","Y4CF","X5CF","Y5CF","X6CF","Y6CF","X7CF","Y7CF","X8CF","Y8CF","X9CF","Y9CF","X10CF","Y10CF","X11CF","Y11CF","X12CF","Y12CF","X13CF","Y13CF","X14CF","Y14CF","X15CF","Y15CF","X16CF","Y16CF","X17CF","Y17CF","X18CF","Y18CF","X19CF","Y19CF","X20CF","Y20CF"],
 "scale": {"paddingInner": 0, "paddingOuter": 0},
 "axis": {"title": "Processed query token", "titleFont": "DejaVu Sans", "titleFontSize": 27, "titleFontWeight": "normal", "titleColor": "#000000", "titleBaseline": "alphabetic", "titleX": -58,
  "labelFont": "DejaVu Sans", "labelFontSize": 11, "labelFontWeight": "bold", "labelColor": "#000000", "labelPadding": 4,
  "domain": false, "ticks": true, "tickSize": 5, "tickColor": "#222222", "tickWidth": 1.1, "grid": false, "labelOverlap": false}},
"color": {"field": "v", "type": "quantitative", "scale": {"domain": [0, 1], "range": ["#ffffff", "#1d2d54"], "interpolate": "rgb"}, "legend": null}
}
},
{
"data": {"values": [{"label": "1st layer"}]},
"mark": {"type": "text", "font": "DejaVu Sans", "fontSize": 27, "fontWeight": "bold", "color": "#0c1d44", "align": "center", "baseline": "middle"},
"encoding": {
"x": {"datum": "Y16CF", "type": "nominal"},
"y": {"datum": "X1CF", "type": "nominal"},
"text": {"field": "label"}
}
}
]
}
